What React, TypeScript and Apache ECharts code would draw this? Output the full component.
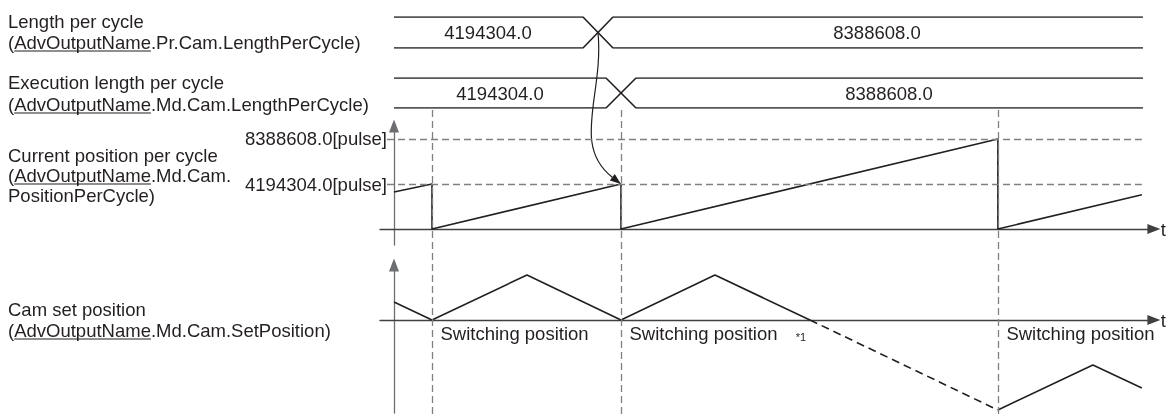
import React, { useEffect, useRef } from 'react';
import * as echarts from 'echarts';

// ---- data ----
const T_MIN = -14;
const T_MAX = 760;
const switchTimes = [38, 227, 604];

const posTime = [0, 38, 38, 227, 227, 604, 604, 748];
const posValue = [3450000, 4194304, 0, 4194304, 0, 8388608, 0, 3200000];
const pulseLevels = [4194304, 8388608];
const guideFrom = -7;
const guideTo = 748;

const prTime = [0, 189, 219, 749];
const mdTime = [0, 212, 242, 749];
const upperLevel = [1, 1, 0, 0];
const lowerLevel = [0, 0, 1, 1];
const lengthLabels = ['4194304.0', '8388608.0'];
const prLabelTime = [94, 483];
const mdLabelTime = [106, 495];
const prCrossTime = 204;

const camTime1 = [0, 38, 133, 227, 321, 416];
const camValue1 = [18, 0, 45, 0, 45, 0];
const camDashTime = [416, 604];
const camDashValue = [0, -90];
const camTime2 = [604, 699, 748];
const camValue2 = [-90, -45, -68];
const switchLabel = 'Switching position';
const switchLabelValue = -13.5;
const noteText = '*1';
const noteTime = 407;
const noteValue = -17;

const leftLines = [
  'Length per cycle',
  '(AdvOutputName.Pr.Cam.LengthPerCycle)',
  'Execution length per cycle',
  '(AdvOutputName.Md.Cam.LengthPerCycle)',
  'Current position per cycle',
  '(AdvOutputName.Md.Cam.',
  'PositionPerCycle)',
  'Cam set position',
  '(AdvOutputName.Md.Cam.SetPosition)',
];
const leftLineY = [21, 42, 82, 104, 155, 175, 195, 309, 330];
const underlined = 'AdvOutputName';

// ---- style ----
const FONT_FAMILY = '"Liberation Sans", Arial, sans-serif';
const FS = 18.5;
const INK = '#231f20';
const GRAY = '#808080';

const zip = (a: number[], b: number[]) => a.map((v, i) => [v, b[i]]);

export default function App() {
  const ref = useRef<HTMLDivElement>(null);
  useEffect(() => {
    if (!ref.current) return;
    const chart = echarts.init(ref.current, undefined, { renderer: 'svg' });

    const gridLeft = 380;
    const gridWidth = 774;
    const yOffset = -14; // y axes sit at t = 0
    const xBase = { type: 'value', min: T_MIN, max: T_MAX, splitLine: { show: false }, axisLabel: { show: false }, axisTick: { show: false } };
    const arrowAxisLine = (color: string, onZero: boolean) => ({
      show: true,
      onZero,
      symbol: ['none', 'triangle'],
      symbolSize: [10, 13],
      lineStyle: { color, width: 1.3 },
    });
    const hiddenY = (i: number) => ({ type: 'value', gridIndex: i, min: 0, max: 1, show: false });
    const hiddenX = (i: number) => ({ ...xBase, gridIndex: i, show: false });

    const lineSeries = (x: number, y: number, data: number[][], extra: any = {}) => ({
      type: 'line',
      xAxisIndex: x,
      yAxisIndex: y,
      data,
      symbol: 'none',
      silent: true,
      lineStyle: { color: INK, width: 1.6, ...(extra.lineStyle || {}) },
    });

    const labelScatter = (x: number, y: number, data: any[], label: any) => ({
      type: 'scatter',
      xAxisIndex: x,
      yAxisIndex: y,
      data,
      symbolSize: 1,
      silent: true,
      itemStyle: { color: 'rgba(0,0,0,0)', opacity: 1 },
      label: { show: true, color: INK, fontSize: FS, fontFamily: FONT_FAMILY, textBorderWidth: 0, formatter: (p: any) => p.data[2], ...label },
    });

    const tName = { name: 't', nameLocation: 'end', nameGap: 7, nameTextStyle: { fontSize: FS, color: INK, fontFamily: FONT_FAMILY } };

    const option: any = {
      animation: false,
      textStyle: { fontFamily: FONT_FAMILY, fontSize: FS, color: INK },
      grid: [
        { left: gridLeft, top: 126, width: gridWidth, height: 119 },
        { left: gridLeft, top: 265, width: gridWidth, height: 148 },
        { left: gridLeft, top: 17, width: gridWidth, height: 31 },
        { left: gridLeft, top: 78, width: gridWidth, height: 30 },
        { left: gridLeft, top: 106, width: gridWidth, height: 308 },
      ],
      xAxis: [
        { ...xBase, gridIndex: 0, axisLine: arrowAxisLine('#404040', true), ...tName },
        { ...xBase, gridIndex: 1, axisLine: arrowAxisLine('#404040', true), ...tName },
        hiddenX(2),
        hiddenX(3),
        hiddenX(4),
      ],
      yAxis: [
        {
          type: 'value', gridIndex: 0, min: -1490000, max: 9600000, offset: yOffset,
          splitLine: { show: false },
          axisLine: arrowAxisLine('#6d6e71', false),
          axisTick: { show: true, customValues: pulseLevels, length: 4, lineStyle: { color: '#6d6e71' } },
          axisLabel: { show: true, customValues: pulseLevels, margin: 7, color: INK, fontSize: FS, fontFamily: FONT_FAMILY, formatter: (v: number) => v.toFixed(1) + '[pulse]' },
        },
        {
          type: 'value', gridIndex: 1, min: -93, max: 55, offset: yOffset,
          splitLine: { show: false },
          axisLine: arrowAxisLine('#6d6e71', false),
          axisTick: { show: false },
          axisLabel: { show: false },
        },
        hiddenY(2),
        hiddenY(3),
        hiddenY(4),
      ],
      series: [
        // vertical switching guides
        {
          type: 'line', xAxisIndex: 4, yAxisIndex: 4, data: [[T_MIN, 0]], symbol: 'none', silent: true,
          lineStyle: { opacity: 0 },
          markLine: {
            silent: true, symbol: 'none', label: { show: false },
            lineStyle: { color: GRAY, width: 1.3, type: [7, 4] },
            data: switchTimes.map((t) => ({ xAxis: t })),
          },
        },
        // current position per cycle
        {
          ...lineSeries(0, 0, zip(posTime, posValue)),
          markLine: {
            silent: true, symbol: 'none', label: { show: false },
            lineStyle: { color: GRAY, width: 1.3, type: [7, 4] },
            data: pulseLevels.map((v) => [{ coord: [guideFrom, v] }, { coord: [guideTo, v] }]),
          },
        },
        // cam set position
        lineSeries(1, 1, zip(camTime1, camValue1)),
        lineSeries(1, 1, zip(camDashTime, camDashValue), { lineStyle: { type: [8, 5] } }),
        lineSeries(1, 1, zip(camTime2, camValue2)),
        // length bands
        lineSeries(2, 2, zip(prTime, upperLevel)),
        lineSeries(2, 2, zip(prTime, lowerLevel)),
        lineSeries(3, 3, zip(mdTime, upperLevel)),
        lineSeries(3, 3, zip(mdTime, lowerLevel)),
        labelScatter(2, 2, prLabelTime.map((t, i) => [t, 0.5, lengthLabels[i]]), { position: 'inside' }),
        labelScatter(3, 3, mdLabelTime.map((t, i) => [t, 0.5, lengthLabels[i]]), { position: 'inside' }),
        labelScatter(1, 1, switchTimes.map((t) => [t, switchLabelValue, switchLabel]), { position: 'right', distance: 8 }),
        labelScatter(1, 1, [[noteTime, noteValue, noteText]], { position: 'inside', fontSize: 11 }),
      ],
    };
    chart.setOption(option);

    // Curved arrow from Pr crossing to the current-position peak
    const start = chart.convertToPixel({ gridIndex: 2 } as any, [prCrossTime, 0.5]) as number[];
    const end = chart.convertToPixel({ gridIndex: 0 } as any, [switchTimes[1], pulseLevels[0]]) as number[];
    const cp1 = [start[0] + 6, start[1] + 62];
    const cp2 = [end[0] - 50, end[1] - 39];
    const dx = end[0] - cp2[0];
    const dy = end[1] - cp2[1];
    const dl = Math.hypot(dx, dy);
    const ux = dx / dl, uy = dy / dl;
    const aLen = 11, aHalf = 4;
    const bx = end[0] - ux * aLen, by = end[1] - uy * aLen;

    const ctx = document.createElement('canvas').getContext('2d')!;
    ctx.font = `${FS}px ${FONT_FAMILY}`;
    const graphics: any[] = [];
    leftLines.forEach((line, i) => {
      graphics.push({
        type: 'text', x: 8, y: leftLineY[i], silent: true,
        style: { text: line, fontSize: FS, fontFamily: FONT_FAMILY, fill: INK, verticalAlign: 'middle', align: 'left' },
      });
      const idx = line.indexOf(underlined);
      if (idx >= 0) {
        const x0 = 8 + ctx.measureText(line.slice(0, idx)).width;
        const x1 = 8 + ctx.measureText(line.slice(0, idx + underlined.length)).width;
        const uy2 = leftLineY[i] + 9;
        graphics.push({ type: 'line', silent: true, shape: { x1: x0, y1: uy2, x2: x1, y2: uy2 }, style: { stroke: INK, lineWidth: 1.2 } });
      }
    });
    graphics.push({
      type: 'bezierCurve', silent: true,
      shape: { x1: start[0], y1: start[1], cpx1: cp1[0], cpy1: cp1[1], cpx2: cp2[0], cpy2: cp2[1], x2: bx, y2: by },
      style: { stroke: INK, lineWidth: 1.2, fill: null },
    });
    graphics.push({
      type: 'polygon', silent: true,
      shape: { points: [[end[0], end[1]], [bx - uy * aHalf, by + ux * aHalf], [bx + uy * aHalf, by - ux * aHalf]] },
      style: { fill: INK },
    });
    chart.setOption({ graphic: graphics });

    return () => chart.dispose();
  }, []);
  return <div ref={ref} style={{ position: 'fixed', left: 0, top: 0, width: 1167, height: 414 }} />;
}
